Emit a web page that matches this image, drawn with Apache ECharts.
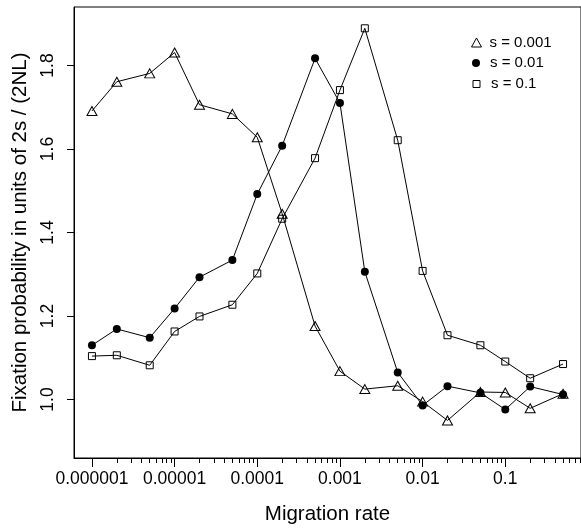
<!DOCTYPE html>
<html>
<head>
<meta charset="utf-8">
<script src="https://cdn.jsdelivr.net/npm/echarts@6/dist/echarts.min.js"></script>
<style>
  html, body { margin: 0; padding: 0; background: #fff; }
  #main { width: 581px; height: 530px; }
</style>
</head>
<body>
<div id="main"></div>
<script>
// migration rates (x) and fixation probabilities for each s
var migration = [0.000001, 0.000002, 0.000005, 0.00001, 0.00002, 0.00005, 0.0001, 0.0002, 0.0005,
    0.001, 0.002, 0.005, 0.01, 0.02, 0.05, 0.1, 0.2, 0.5];
var s001 = [1.691, 1.761, 1.781, 1.831, 1.706, 1.684, 1.628, 1.445, 1.176,
    1.068, 1.025, 1.033, 0.995, 0.950, 1.018, 1.017, 0.979, 1.014];
var s01 = [1.130, 1.169, 1.148, 1.218, 1.293, 1.334, 1.492, 1.608, 1.817,
    1.710, 1.306, 1.065, 0.986, 1.032, 1.016, 0.976, 1.031, 1.012];
var s1 = [1.104, 1.106, 1.082, 1.163, 1.199, 1.227, 1.302, 1.433, 1.578,
    1.741, 1.889, 1.621, 1.308, 1.154, 1.130, 1.091, 1.051, 1.085];

var xTickLabels = ['0.000001', '0.00001', '0.0001', '0.001', '0.01', '0.1'];
var yTicks = [1.0, 1.2, 1.4, 1.6, 1.8];

var decades = xTickLabels.map(function (t) { return Math.round(Math.log10(parseFloat(t))); });
// minor ticks 2..9 in each decade, up to the right edge
var minorTicks = [];
for (var d = -6; d <= -1; d++) {
    for (var k = 2; k <= 9; k++) minorTicks.push(Math.log10(k) + d);
}

function pairs(ys) {
    return migration.map(function (x, i) { return [Math.log10(x), ys[i]]; });
}

var FONT = '"Liberation Sans", Arial, Helvetica, sans-serif';
var hollow = { color: 'rgba(0,0,0,0)', borderColor: '#000', borderWidth: 1 };
var filled = { color: '#000', borderWidth: 0 };

// one legend per entry so each icon keeps its own size
function legendEntry(name, icon, style, w, h, top, left) {
    return {
        orient: 'vertical',
        left: left, top: top,
        itemWidth: w, itemHeight: h,
        textStyle: { fontFamily: FONT, fontSize: 15, color: '#000', padding: [0, 0, 0, 13 - w] },
        data: [{ name: name, icon: icon, itemStyle: style }]
    };
}

var chartDom = document.getElementById('main');
var myChart = echarts.init(chartDom);
var option;

option = {
    animation: false,
    backgroundColor: '#fff',
    textStyle: { fontFamily: FONT, color: '#000' },
    grid: {
        left: 74, top: 7, right: -2, bottom: 66,
        show: true, borderColor: '#000', borderWidth: 1
    },
    legend: [
        legendEntry('s = 0.001', 'triangle', hollow, 10, 9, 30, 466),
        legendEntry('s = 0.01', 'circle', filled, 8, 8, 50.5, 467),
        legendEntry('s = 0.1', 'rect', hollow, 7, 7, 71.5, 467.5)
    ],
    xAxis: [
        {
            type: 'value',
            min: -6.217, max: -0.084,
            name: 'Migration rate',
            nameLocation: 'middle',
            nameGap: 46,
            nameTextStyle: { fontFamily: FONT, fontSize: 20.5, color: '#000' },
            axisLine: { show: true, lineStyle: { color: '#000', width: 1 } },
            axisTick: { show: true, length: 9, customValues: decades, lineStyle: { color: '#000' } },
            axisLabel: {
                customValues: decades, margin: 12,
                fontFamily: FONT, fontSize: 17.5, color: '#000',
                formatter: function (v) { return xTickLabels[decades.indexOf(Math.round(v))]; }
            },
            splitLine: { show: false }
        },
        {
            type: 'value',
            min: -6.217, max: -0.084,
            position: 'bottom',
            axisLine: { show: false },
            axisTick: { show: true, length: 5, customValues: minorTicks, lineStyle: { color: '#000' } },
            axisLabel: { show: false },
            splitLine: { show: false }
        }
    ],
    yAxis: {
        type: 'value',
        min: 0.86, max: 1.94,
        name: 'Fixation probability in units of 2s / (2NL)',
        nameLocation: 'middle',
        nameGap: 42,
        nameTextStyle: { fontFamily: FONT, fontSize: 20.5, color: '#000' },
        axisLine: { show: true, lineStyle: { color: '#000', width: 1 } },
        axisTick: { show: true, length: 7, customValues: yTicks, lineStyle: { color: '#000' } },
        axisLabel: {
            customValues: yTicks, rotate: 90, margin: 17,
            fontFamily: FONT, fontSize: 17.5, color: '#000',
            formatter: function (v) { return v.toFixed(1); }
        },
        splitLine: { show: false }
    },
    series: [
        {
            name: 's = 0.001', type: 'line', data: pairs(s001),
            symbol: 'triangle', symbolSize: [10, 9],
            itemStyle: hollow, lineStyle: { color: '#000', width: 1 }
        },
        {
            name: 's = 0.01', type: 'line', data: pairs(s01),
            symbol: 'circle', symbolSize: 8,
            itemStyle: filled, lineStyle: { color: '#000', width: 1 }
        },
        {
            name: 's = 0.1', type: 'line', data: pairs(s1),
            symbol: 'rect', symbolSize: 7,
            itemStyle: hollow, lineStyle: { color: '#000', width: 1 }
        }
    ]
};

option && myChart.setOption(option);
</script>
</body>
</html>
